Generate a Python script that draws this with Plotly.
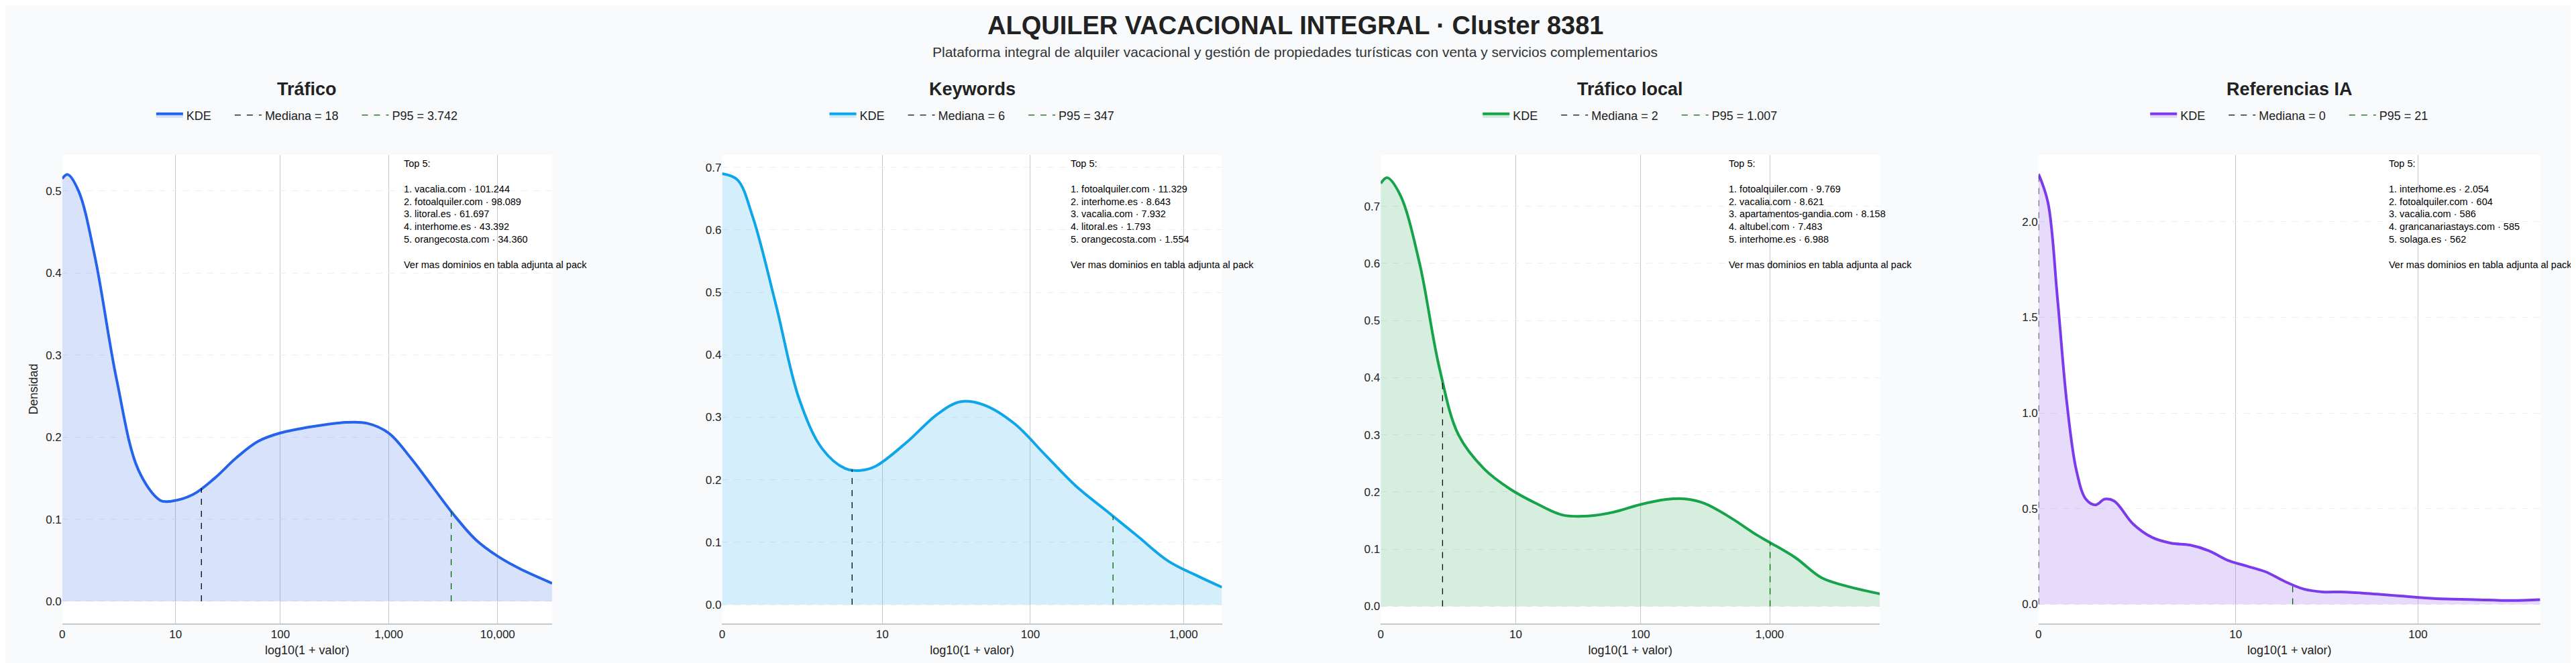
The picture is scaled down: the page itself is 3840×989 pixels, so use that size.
import numpy as np
import plotly.graph_objects as go

titles = ["Tráfico", "Keywords", "Tráfico local", "Referencias IA"]
colors = ["#2563eb", "#0ea5e9", "#16a34a", "#7c3aed"]
fills = ["rgba(37,99,235,0.18)", "rgba(14,165,233,0.18)", "rgba(22,163,74,0.18)", "rgba(124,58,237,0.18)"]
medians = [18, 6, 2, 0]
p95s = [3742, 347, 1007, 21]
median_labels = ["18", "6", "2", "0"]
p95_labels = ["3.742", "347", "1.007", "21"]

x1 = [0, 0.05, 0.15, 0.3, 0.5, 0.7, 0.9, 1.0, 1.2, 1.4, 1.6, 1.8, 2.0, 2.3, 2.6, 2.8, 3.0, 3.2, 3.4, 3.6, 3.8, 4.0, 4.2, 4.5]
y1 = [0.515, 0.52, 0.5, 0.42, 0.27, 0.16, 0.123, 0.122, 0.13, 0.15, 0.175, 0.195, 0.205, 0.213, 0.218, 0.217, 0.205, 0.175, 0.14, 0.105, 0.075, 0.055, 0.04, 0.022]
x2 = [0, 0.1, 0.2, 0.35, 0.5, 0.65, 0.8, 0.9, 1.0, 1.2, 1.4, 1.55, 1.7, 1.9, 2.1, 2.3, 2.5, 2.7, 2.9, 3.1, 3.25]
y2 = [0.69, 0.68, 0.62, 0.48, 0.33, 0.25, 0.218, 0.215, 0.222, 0.26, 0.305, 0.325, 0.32, 0.29, 0.24, 0.19, 0.15, 0.11, 0.07, 0.045, 0.028]
x3 = [0, 0.05, 0.15, 0.3, 0.45, 0.6, 0.8, 1.0, 1.2, 1.4, 1.6, 1.8, 2.0, 2.2, 2.35, 2.5, 2.7, 2.9, 3.0, 3.2, 3.4, 3.6, 3.85]
y3 = [0.74, 0.75, 0.72, 0.6, 0.42, 0.3, 0.24, 0.205, 0.18, 0.16, 0.158, 0.165, 0.178, 0.187, 0.188, 0.18, 0.155, 0.125, 0.112, 0.085, 0.05, 0.035, 0.022]
x4 = [0, 0.05, 0.1, 0.15, 0.2, 0.25, 0.3, 0.35, 0.4, 0.5, 0.6, 0.7, 0.8, 0.9, 1.0, 1.1, 1.2, 1.3, 1.4, 1.5, 1.6, 1.7, 1.9, 2.1, 2.3, 2.5, 2.65]
y4 = [2.25, 2.1, 1.6, 1.05, 0.7, 0.55, 0.52, 0.55, 0.54, 0.42, 0.35, 0.32, 0.31, 0.28, 0.23, 0.2, 0.17, 0.12, 0.08, 0.065, 0.065, 0.06, 0.045, 0.03, 0.025, 0.02, 0.025]
xs = [x1, x2, x3, x4]
ys = [y1, y2, y3, y4]

tick_values = [[0, 10, 100, 1000, 10000], [0, 10, 100, 1000], [0, 10, 100, 1000], [0, 10, 100]]
tick_labels = [["0", "10", "100", "1,000", "10,000"], ["0", "10", "100", "1,000"], ["0", "10", "100", "1,000"], ["0", "10", "100"]]
ytick_vals = [[0, 0.1, 0.2, 0.3, 0.4, 0.5], [0, 0.1, 0.2, 0.3, 0.4, 0.5, 0.6, 0.7], [0, 0.1, 0.2, 0.3, 0.4, 0.5, 0.6, 0.7], [0, 0.5, 1.0, 1.5, 2.0]]
y_ranges = [[-0.027, 0.544], [-0.03, 0.72], [-0.03, 0.79], [-0.1, 2.35]]

top5 = [
    ["vacalia.com · 101.244", "fotoalquiler.com · 98.089", "litoral.es · 61.697", "interhome.es · 43.392", "orangecosta.com · 34.360"],
    ["fotoalquiler.com · 11.329", "interhome.es · 8.643", "vacalia.com · 7.932", "litoral.es · 1.793", "orangecosta.com · 1.554"],
    ["fotoalquiler.com · 9.769", "vacalia.com · 8.621", "apartamentos-gandia.com · 8.158", "altubel.com · 7.483", "interhome.es · 6.988"],
    ["interhome.es · 2.054", "fotoalquiler.com · 604", "vacalia.com · 586", "grancanariastays.com · 585", "solaga.es · 562"],
]

domains = [[0.0208, 0.2112], [0.2773, 0.4716], [0.5333, 0.7273], [0.789, 0.984]]
ydom = [0.0677, 0.7745]
pad = "\u00a0" * 5

fig = go.Figure()
for i in range(4):
    ax = "" if i == 0 else str(i + 1)
    xa, ya = "x" + ax, "y" + ax
    leg = "legend" + ax
    x = np.array(xs[i]); y = np.array(ys[i])
    fig.add_trace(go.Scatter(x=x, y=y, mode="lines", line=dict(color=colors[i], width=4, shape="spline"),
                             fill="tozeroy", fillcolor=fills[i], name="KDE" + pad, xaxis=xa, yaxis=ya, legend=leg))
    xm = np.log10(1 + medians[i]); ym = np.interp(xm, x, y)
    fig.add_trace(go.Scatter(x=[xm, xm], y=[0, ym], mode="lines", line=dict(color="black", width=1.3, dash="dash"),
                             name="Mediana = " + median_labels[i] + pad, xaxis=xa, yaxis=ya, legend=leg))
    xp = np.log10(1 + p95s[i]); yp = np.interp(xp, x, y)
    fig.add_trace(go.Scatter(x=[xp, xp], y=[0, yp], mode="lines", line=dict(color="darkgreen", width=1.3, dash="dash"),
                             name="P95 = " + p95_labels[i], xaxis=xa, yaxis=ya, legend=leg))
    fig.update_layout(**{
        "xaxis" + ax: dict(domain=domains[i], anchor=ya, range=[0, x[-1]],
                           tickvals=[np.log10(1 + t) for t in tick_values[i]], ticktext=tick_labels[i],
                           showgrid=True, gridcolor="#c8c8c8", gridwidth=1, zeroline=False,
                           showline=True, linecolor="#c8c8c8", linewidth=2, ticks="",
                           title=dict(text="log10(1 + valor)", font=dict(size=18), standoff=8),
                           tickfont=dict(size=17)),
        "yaxis" + ax: dict(domain=ydom, anchor=xa, range=y_ranges[i], tickvals=ytick_vals[i], tickformat=".1f",
                           showgrid=True, gridcolor="#eeeeee", griddash="dash", zeroline=False,
                           showline=False, tickfont=dict(size=17),
                           title=dict(text="Densidad" if i == 0 else "", font=dict(size=18), standoff=6)),
        leg: dict(orientation="h", x=(domains[i][0] + domains[i][1]) / 2, xanchor="center", y=1 - 164 / 989,
                  yanchor="middle", font=dict(size=18), bgcolor="rgba(0,0,0,0)", itemwidth=40),
    })
    fig.add_annotation(text="<b>" + titles[i] + "</b>", x=(domains[i][0] + domains[i][1]) / 2, y=1 - 125 / 989,
                       xref="paper", yref="paper", xanchor="center", yanchor="middle",
                       showarrow=False, font=dict(size=27, color="#222"))
    txt = "Top 5:<br><br>" + "<br>".join(f"{k+1}. {d}" for k, d in enumerate(top5[i])) + "<br><br>Ver mas dominios en tabla adjunta al pack"
    fig.add_annotation(text=txt, x=domains[i][0] + 0.695 * (domains[i][1] - domains[i][0]), y=ydom[1] - 0.003,
                       xref="paper", yref="paper", xanchor="left", yanchor="top", align="left",
                       showarrow=False, font=dict(size=14.5, color="black"))

fig.add_annotation(text="<b>ALQUILER VACACIONAL INTEGRAL · Cluster 8381</b>", x=0.5, y=1 - 30 / 989, xref="paper", yref="paper",
                   xanchor="center", yanchor="middle", showarrow=False, font=dict(size=38, color="#222"))
fig.add_annotation(text="Plataforma integral de alquiler vacacional y gestión de propiedades turísticas con venta y servicios complementarios",
                   x=0.5, y=1 - 69 / 989, xref="paper", yref="paper", xanchor="center", yanchor="middle",
                   showarrow=False, font=dict(size=21, color="#333"))

fig.update_layout(width=3840, height=989, margin=dict(l=0, r=0, t=0, b=0),
                  paper_bgcolor="#f8fafc", plot_bgcolor="white",
                  font=dict(family="Liberation Sans, Arial, sans-serif", color="#222"))
fig.write_html("out.html")
